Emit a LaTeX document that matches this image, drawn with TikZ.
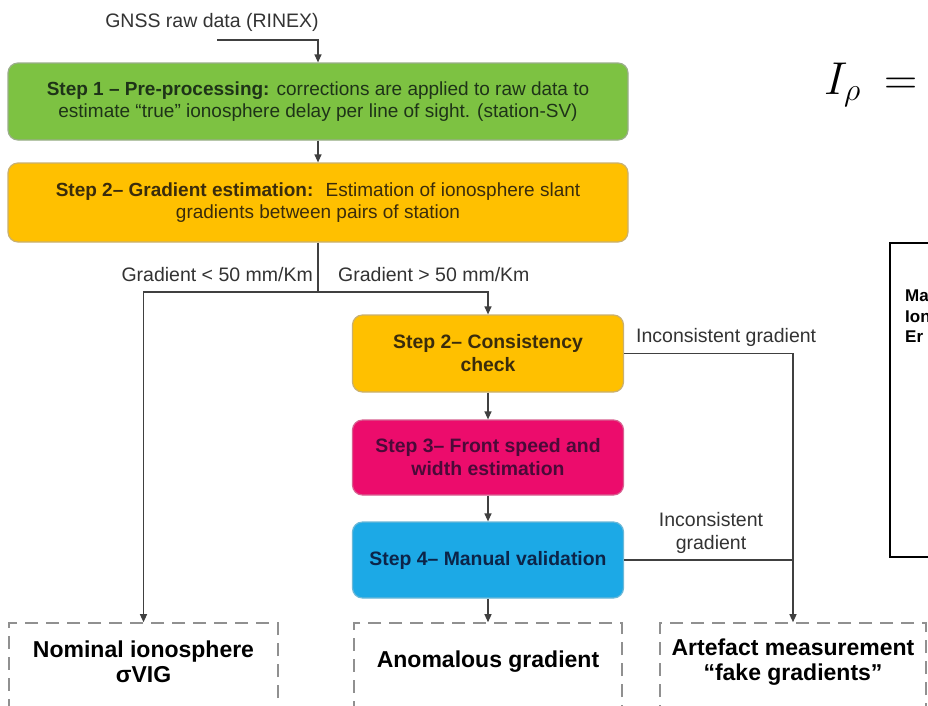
\documentclass[tikz,border=0pt]{standalone}
\usepackage{fontspec}
\setmainfont{Liberation Sans}
\usetikzlibrary{arrows.meta}
\definecolor{cgreen}{HTML}{7DC242}
\definecolor{cgreenb}{HTML}{9AAE8A}
\definecolor{corange}{HTML}{FFC000}
\definecolor{corangeb}{HTML}{C9B070}
\definecolor{cmag}{HTML}{EC0C6C}
\definecolor{cmagb}{HTML}{D86090}
\definecolor{cblue}{HTML}{1CA9E6}
\definecolor{cblueb}{HTML}{6AB8D8}
\definecolor{tgreen}{HTML}{1E3318}
\definecolor{torange}{HTML}{3A2C0C}
\definecolor{tmag}{HTML}{4A0A38}
\definecolor{tblue}{HTML}{0C2448}
\definecolor{cline}{HTML}{404040}
\definecolor{cdash}{HTML}{909090}
\definecolor{ctext}{HTML}{333333}
\begin{document}
\begin{tikzpicture}[x=1pt,y=-1pt,
  stepbox/.style={draw=#1b, fill=#1, rounded corners=10pt, line width=1.2pt, inner sep=0pt, align=center},
  outbox/.style={draw=cdash, line width=1.6pt, dash pattern=on 13pt off 8pt, inner sep=0pt},
  outtext/.style={align=center, inner sep=0pt, font=\fontsize{23}{25}\selectfont\bfseries, text=black},
  arr/.style={draw=cline, line width=1.2pt, -{Triangle[length=8pt,width=7pt]}},
  ln/.style={draw=cline, line width=1.2pt},
  lab/.style={font=\fontsize{19.5}{23}\selectfont, text=ctext, inner sep=0pt},
  boxtext/.style={font=\fontsize{19}{22}\selectfont},
  boldtext/.style={font=\bfseries\fontsize{19.4}{23}\selectfont}
]
\clip (0,0) rectangle (928,705);
\fill[white] (0,0) rectangle (928,705);

% top label
\node[lab] (gnss) at (212,22) {GNSS raw data (RINEX)};
\coordinate (gin) at (217,40);

% boxes
\node[stepbox=cgreen, minimum width=620pt, minimum height=77pt, boxtext, text=tgreen] (s1) at (318,101.5)
  {\textbf{Step 1 – Pre-processing:} corrections are applied to raw data to\\estimate “true” ionosphere delay per line of sight. (station-SV)};
\node[stepbox=corange, minimum width=620pt, minimum height=79pt, boxtext, text=torange] (s2) at (318,202.5)
  {\textbf{Step 2– Gradient estimation:} \ Estimation of ionosphere slant\\gradients between pairs of station};
\node[stepbox=corange, minimum width=271pt, minimum height=77pt, boldtext, text=torange] (cons) at (488,353.5)
  {Step 2– Consistency\\check};
\node[stepbox=cmag, minimum width=271pt, minimum height=75pt, boldtext, text=tmag] (s3) at (488,457.5)
  {Step 3– Front speed and\\width estimation};
\node[stepbox=cblue, minimum width=271pt, minimum height=76pt, boldtext, text=tblue] (s4) at (488,560)
  {Step 4– Manual validation};

% outcome boxes (bottom edge lies below the picture)
\node[outbox, minimum width=269pt, minimum height=100pt] (nom) at (143.5,673) {};
\node[outbox, minimum width=268pt, minimum height=100pt] (anom) at (488,673) {};
\node[outbox, minimum width=266pt, minimum height=100pt] (art) at (793,673) {};
\node[outtext] (nomt) at (143.5,662) {Nominal ionosphere\\σVIG};
\node[outtext] (anomt) at (488,662) {Anomalous gradient};
\node[outtext] (artt) at (793,662) {Artefact measurement\\“fake gradients”};

% connectors
\draw[arr] (gin) -| (s1.north);
\draw[arr] (s1.south) -- (s2.north);
\coordinate (split) at (318,292);
\draw[ln] (s2.south) -- (split);
\draw[arr] (split) -| (nom.north);
\draw[arr] (split) -| (cons.north);
\draw[arr] (cons.south) -- (s3.north);
\draw[arr] (s3.south) -- (s4.north);
\draw[arr] (s4.south) -- (anom.north);
\draw[arr] (cons.east) -| (art.north);
\draw[ln] (s4.east) -- (s4.east -| art.north);

% connector labels
\node[lab, anchor=east] (lt) at (313,275) {Gradient < 50 mm/Km};
\node[lab, anchor=west] (gt) at (338,275) {Gradient > 50 mm/Km};
\node[lab, anchor=west] (inc1) at (636,337) {Inconsistent gradient};
\node[lab, align=center] (inc2) at (711,533) {Inconsistent\\gradient};

% right side fragment
\node[anchor=base west, inner sep=0pt, font=\fontsize{24}{24}\selectfont] (formula) at (824,94) {\scalebox{1.85}{$I_\rho\mkern4mu=$}};
\node[draw=black, line width=1.3pt, minimum width=80pt, minimum height=314pt, inner sep=0pt] (rbox) at (930,400) {};
\node[anchor=north west, align=left, inner sep=0pt, font=\bfseries\fontsize{17}{20.5}\selectfont] (rtext) at (905,290) {Ma\\Ion\\Er};
\end{tikzpicture}
\end{document}
